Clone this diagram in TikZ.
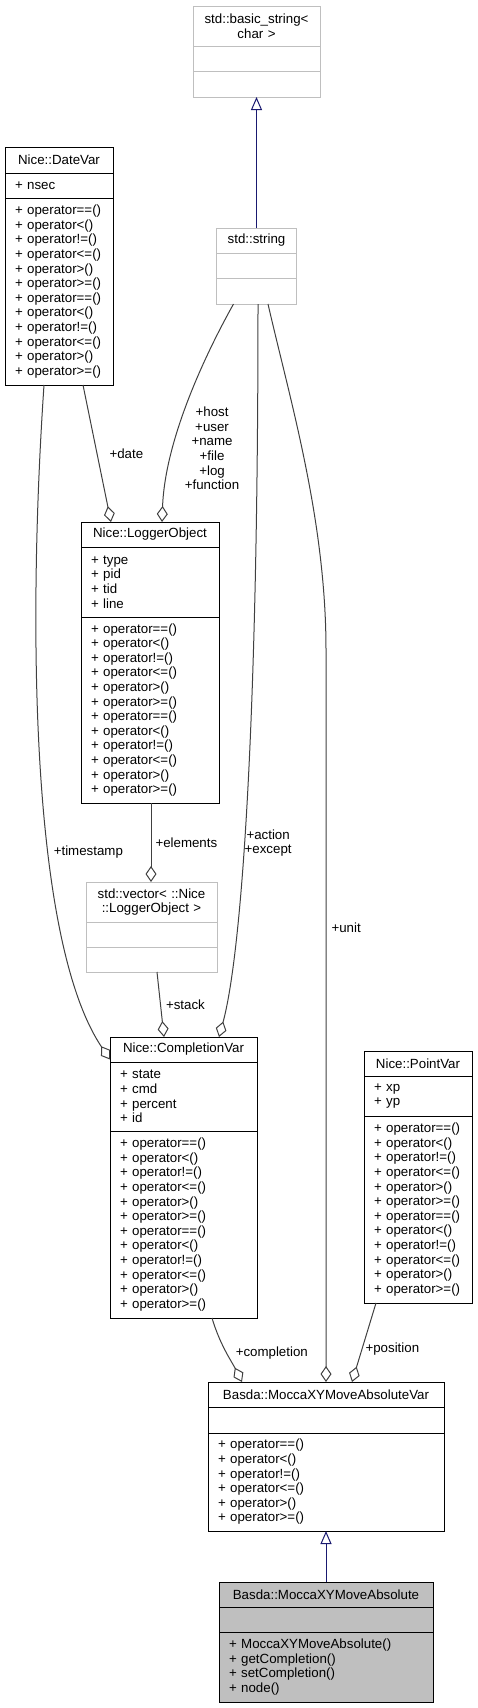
\documentclass[tikz,border=0pt]{standalone}
\usepackage{fontspec}
\setmainfont{Liberation Sans}
\usetikzlibrary{positioning, arrows.meta, calc}

\definecolor{edgegray}{HTML}{404040}
\definecolor{extgray}{HTML}{BFBFBF}
\definecolor{inhblue}{HTML}{191970}

% the six comparison operators, listed as members
\newcommand{\opsix}{+ operator==()\\+ operator<()\\+ operator!=()\\+ operator<=()\\+ operator>()\\+ operator>=()}

\begin{document}
\begin{tikzpicture}[
    x=1pt, y=-1pt, % pixel coordinates, y down
    font=\fontsize{13.3}{14.6}\selectfont,
    % Styles
    head/.style={ % class name compartment
        draw,
        line width=1pt,
        outer sep=0pt,
        inner xsep=0pt,
        inner ysep=0pt,
        align=center,
        anchor=north
    },
    member/.style={ % attribute or operation compartment
        draw,
        line width=1pt,
        outer sep=0pt,
        inner xsep=10pt,
        inner ysep=0pt,
        align=left,
        anchor=north
    },
    ext/.style={draw=extgray}, % class outside the project
    self/.style={fill=extgray}, % the documented class
    agg/.style={ % used as a member
        draw=edgegray,
        line width=1pt,
        -{Diamond[open, length=16pt, width=11pt]}
    },
    inherit/.style={ % public inheritance
        draw=inhblue,
        line width=1pt,
        -{Triangle[open, length=13pt, width=11pt]}
    },
    lbl/.style={inner sep=0pt, align=center}
]
    \useasboundingbox (0,0) rectangle (477,1708);

    % Classes
    \node[head, ext, text width=127pt, minimum height=40pt] (bstr) at (256.5,6) {std::basic\_string<\\char >};
    \node[member, ext, text width=107pt, minimum height=25pt, below=0pt of bstr] (bstr-a) {};
    \node[member, ext, text width=107pt, minimum height=26pt, below=0pt of bstr-a] (bstr-o) {};

    \node[head, ext, text width=80pt, minimum height=25pt] (str) at (256.5,228) {std::string};
    \node[member, ext, text width=60pt, minimum height=25pt, below=0pt of str] (str-a) {};
    \node[member, ext, text width=60pt, minimum height=26pt, below=0pt of str-a] (str-o) {};

    \node[head, text width=108pt, minimum height=26pt] (date) at (59,147) {Nice::DateVar};
    \node[member, text width=88pt, minimum height=25pt, below=0pt of date] (date-a) {+ nsec};
    \node[member, text width=88pt, minimum height=187pt, below=0pt of date-a] (date-o) {\opsix\\\opsix};

    \node[head, text width=138pt, minimum height=25pt] (logobj) at (150,522) {Nice::LoggerObject};
    \node[member, text width=118pt, minimum height=70pt, below=0pt of logobj] (logobj-a) {+ type\\+ pid\\+ tid\\+ line};
    \node[member, text width=118pt, minimum height=186pt, below=0pt of logobj-a] (logobj-o) {\opsix\\\opsix};

    \node[head, ext, text width=131pt, minimum height=40pt] (vec) at (151.5,882) {std::vector< ::Nice\\::LoggerObject >};
    \node[member, ext, text width=111pt, minimum height=25pt, below=0pt of vec] (vec-a) {};
    \node[member, ext, text width=111pt, minimum height=25pt, below=0pt of vec-a] (vec-o) {};

    \node[head, text width=147pt, minimum height=25pt] (compl) at (183.5,1037) {Nice::CompletionVar};
    \node[member, text width=127pt, minimum height=69pt, below=0pt of compl] (compl-a) {+ state\\+ cmd\\+ percent\\+ id};
    \node[member, text width=127pt, minimum height=187pt, below=0pt of compl-a] (compl-o) {\opsix\\\opsix};

    \node[head, text width=108pt, minimum height=25pt] (point) at (418,1051) {Nice::PointVar};
    \node[member, text width=88pt, minimum height=40pt, below=0pt of point] (point-a) {+ xp\\+ yp};
    \node[member, text width=88pt, minimum height=187pt, below=0pt of point-a] (point-o) {\opsix\\\opsix};

    \node[head, text width=236pt, minimum height=25pt] (mvar) at (326,1382) {Basda::MoccaXYMoveAbsoluteVar};
    \node[member, text width=216pt, minimum height=26pt, below=0pt of mvar] (mvar-a) {};
    \node[member, text width=216pt, minimum height=98pt, below=0pt of mvar-a] (mvar-o) {\opsix};

    \node[head, self, text width=214pt, minimum height=25pt] (mabs) at (326,1582) {Basda::MoccaXYMoveAbsolute};
    \node[member, self, text width=194pt, minimum height=25pt, below=0pt of mabs] (mabs-a) {};
    \node[member, self, text width=194pt, minimum height=70pt, below=0pt of mabs-a] (mabs-o) {+ MoccaXYMoveAbsolute()\\+ getCompletion()\\+ setCompletion()\\+ node()};

    % Inheritance
    \draw[inherit] (str.north) -- (bstr-o.south);
    \draw[inherit] (mabs.north) -- (mvar-o.south);

    % Members
    \draw[agg] ([xshift=24pt]date-o.south) -- ([xshift=-39pt]logobj.north)
        node[lbl, pos=0.5, right=12pt] {+date};
    \draw[agg] ([xshift=-23pt]str-o.south) .. controls (205,355) and (165,440) .. ([xshift=12pt]logobj.north)
        node[lbl, pos=0.7, right=11pt] {+host\\+user\\+name\\+file\\+log\\+function};
    \draw[agg] ([xshift=-15pt]date-o.south) .. controls (28,620) and (30,940) .. ([yshift=-10pt]compl.west)
        node[lbl, pos=0.62, right=4pt] {+timestamp};
    \draw[agg] ([xshift=1.5pt]str-o.south) .. controls (258,750) and (240,960) .. ([xshift=35.5pt]compl.north)
        node[lbl, pos=0.55, right=0pt] {+action\\+except};
    \draw[agg] ([xshift=11.5pt]str-o.south) .. controls (290,400) and (326,520) .. (326,650) -- (mvar.north)
        node[lbl, pos=0.38, right=5pt] {+unit};
    \draw[agg] ([xshift=1pt]logobj-o.south) -- ([xshift=-0.5pt]vec.north)
        node[lbl, pos=0.5, right=4pt] {+elements};
    \draw[agg] ([xshift=5.5pt]vec-o.south) -- ([xshift=-19.5pt]compl.north)
        node[lbl, pos=0.5, right=5pt] {+stack};
    \draw[agg] ([xshift=28.5pt]compl-o.south) .. controls (220,1345) and (232,1362) .. ([xshift=-84pt]mvar.north)
        node[lbl, pos=0.5, right=9pt] {+completion};
    \draw[agg] ([xshift=-42pt]point-o.south) -- ([xshift=26pt]mvar.north)
        node[lbl, pos=0.58, right=3pt] {+position};
\end{tikzpicture}
\end{document}
